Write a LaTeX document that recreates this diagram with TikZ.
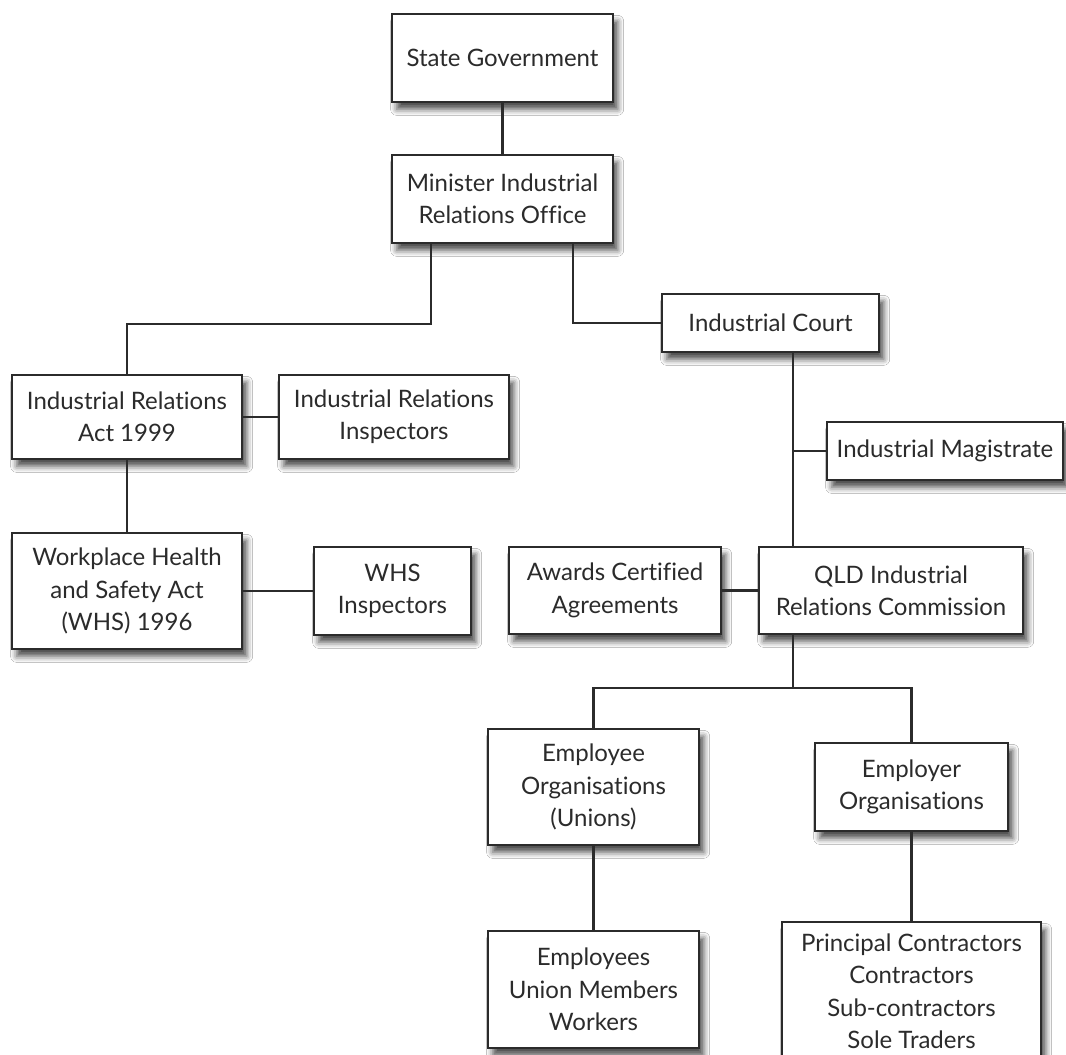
\documentclass[tikz,border=0pt]{standalone}
\usepackage{fontspec}
\setmainfont{Lato}[Ligatures=NoCommon]
\usetikzlibrary{shadows.blur,calc}
\definecolor{ink}{HTML}{2B2B2B}
\tikzset{
  box/.style={draw=ink, line width=1.7pt, fill=white, align=center, inner sep=0pt,
    text=ink, font=\fontsize{18}{24.3}\selectfont,
    blur shadow={shadow xshift=3.5pt, shadow yshift=-5.5pt, shadow blur radius=4.5pt, shadow opacity=70}},
  link/.style={draw=ink, line width=1.7pt}
}
\newcommand\bx[6]{\node[box, minimum width={(#4-#2)*0.75pt}, minimum height={(#5-#3)*0.75pt}] (#1) at ({(#2+#4)/2},{(#3+#5)/2}) {#6};}
\begin{document}
\begin{tikzpicture}[x=0.75pt,y=-0.75pt]
\useasboundingbox[fill=white] (0,0) rectangle (1066,1055);
\bx{sg}{392}{14}{613}{102}{State Government}
\bx{miro}{392}{155}{613}{243}{Minister Industrial\\Relations Office}
\bx{ira}{12}{375}{242}{459}{Industrial Relations\\Act 1999}
\bx{iri}{279}{375}{509}{459}{Industrial Relations\\Inspectors}
\bx{whsa}{12}{533}{242}{649}{Workplace Health\\and Safety Act\\(WHS) 1996}
\bx{whsi}{314}{547}{471}{635}{WHS\\Inspectors}
\bx{ic}{662}{294}{879}{352}{Industrial Court}
\bx{im}{827}{422}{1063}{480}{Industrial Magistrate}
\bx{aw}{509}{547}{721}{634}{Awards Certified\\Agreements}
\bx{qld}{759}{547}{1023}{634}{QLD Industrial\\Relations Commission}
\bx{eo}{488}{729}{699}{845}{Employee\\Organisations\\(Unions)}
\bx{ero}{815}{743}{1008}{831}{Employer\\Organisations}
\bx{emp}{488}{931}{699}{1048}{Employees\\Union Members\\Workers}
\node[box, minimum width={259*0.75pt}, minimum height={138*0.75pt}, anchor=north] (pc) at (911.5,921) {Principal Contractors\\Contractors\\Sub-contractors\\Sole Traders};
% connectors
\draw[link] (sg) -- (miro);
\draw[link] ([xshift=30pt]miro.south west) -- ++(0,80) -| (ira.north);
\draw[link] ([xshift=136.5pt]miro.south west) |- (ic.west);
\draw[link] (ira) -- (iri);
\draw[link] (ira) -- (whsa);
\draw[link] (whsa) -- (whsi);
\coordinate (icb) at ([xshift=99pt]ic.south west);
\draw[link] (icb) -- (icb |- qld.north);
\draw[link] (icb |- im.west) -- (im.west);
\draw[link] (aw) -- (qld);
\draw[link] (icb |- qld.south) -- ++(0,53) coordinate (j);
\draw[link] (eo.north) |- (j) -| (ero.north);
\draw[link] (eo) -- (emp);
\draw[link] (ero) -- (pc);
\end{tikzpicture}
\end{document}
